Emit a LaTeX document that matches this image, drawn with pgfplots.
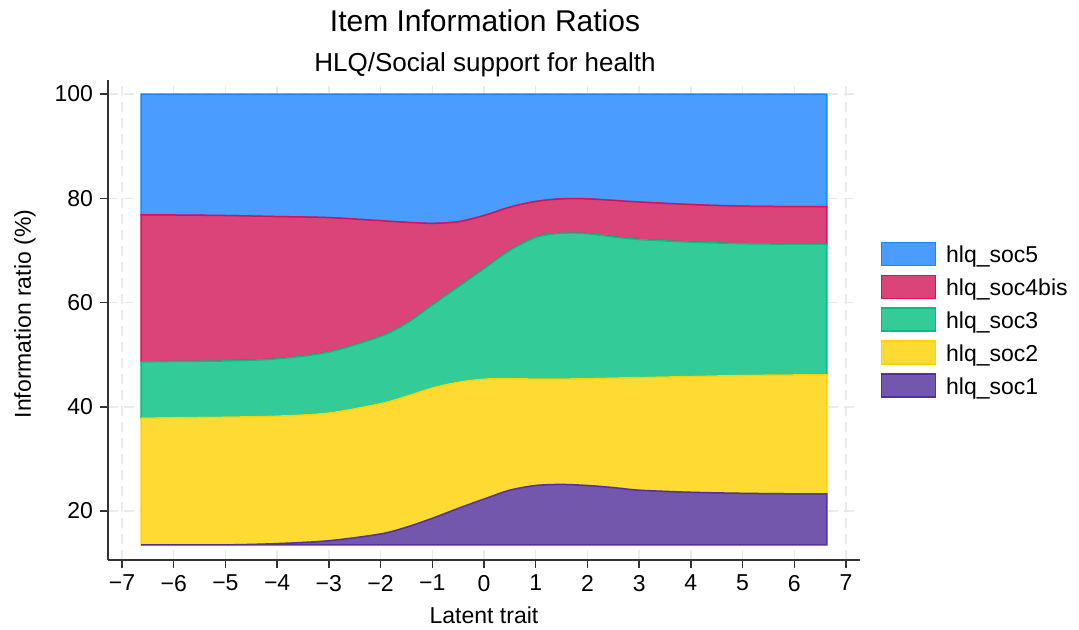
\documentclass[border=0pt]{standalone}
\usepackage{fontspec}
\setmainfont{Liberation Sans}
\usepackage{pgfplots}
\pgfplotsset{compat=1.18}
\usepackage{pgfplotstable}
\usepgfplotslibrary{fillbetween}

\definecolor{f5}{HTML}{4A9CFF}\definecolor{e5}{HTML}{1A85FF}
\definecolor{f4}{HTML}{DB4479}\definecolor{e4}{HTML}{D41159}
\definecolor{f3}{HTML}{33CC99}\definecolor{e3}{HTML}{00BF7F}
\definecolor{f2}{HTML}{FDDB33}\definecolor{e2}{HTML}{FFD400}
\definecolor{f1}{HTML}{7257AC}\definecolor{e1}{HTML}{52329A}
\definecolor{gridc}{HTML}{EAEAEA}

\pgfplotsset{mylegend/.style={legend image code/.code={\draw[##1] (0pt,-4.85pt) rectangle (27pt,6.65pt);}}}

\pgfplotstableread{
x c0 c1 c2 c3 c4 c5
-6.63 13.5 13.5 37.8 48.6 76.8 100
-6 13.5 13.5 37.9 48.7 76.8 100
-5 13.5 13.5 38.0 48.8 76.7 100
-4 13.5 13.75 38.2 49.2 76.5 100
-3 13.5 14.3 38.8 50.5 76.3 100
-2 13.5 15.6 40.6 53.5 75.7 100
-1.5 13.5 16.9 42.0 56.0 75.4 100
-1 13.5 18.6 43.6 59.5 75.2 100
-0.5 13.5 20.5 44.7 63.0 75.5 100
0 13.5 22.3 45.3 66.5 76.7 100
0.5 13.5 24.0 45.4 70.0 78.3 100
1 13.5 24.9 45.3 72.5 79.4 100
1.5 13.5 25.1 45.3 73.3 79.9 100
2 13.5 24.9 45.4 73.2 79.9 100
2.5 13.5 24.5 45.5 72.6 79.6 100
3 13.5 24.0 45.6 72.1 79.3 100
4 13.5 23.6 45.8 71.6 78.8 100
5 13.5 23.4 46.0 71.3 78.5 100
6 13.5 23.3 46.1 71.2 78.4 100
6.63 13.5 23.3 46.1 71.2 78.4 100
}\datatab

\begin{document}
\begin{tikzpicture}
\begin{axis}[
  at={(0,0)}, anchor=south west,
  scale only axis, width=376pt, height=240pt,
  xmin=-7.27, xmax=7.27, ymin=10.6, ymax=102.7,
  axis lines*=left, axis line style={-, black!80, line width=0.75pt},
  xtick={-7,-6,...,7},
  xticklabels={−7,−6,−5,−4,−3,−2,−1,0,1,2,3,4,5,6,7},
  ytick={20,40,60,80,100},
  tick align=outside, major tick length=4pt,
  tick style={black!80, line width=0.75pt},
  /pgf/number format/assume math mode=true,
  ticklabel style={font=\fontsize{11.5}{13}\selectfont},
  grid=major,
  major grid style={gridc, line width=0.75pt, dash pattern=on 5pt off 3pt},
  xlabel={Latent trait},
  ylabel={Information ratio (\%)},
  label style={font=\fontsize{11.5}{13}\selectfont},
  xlabel style={at={(axis description cs:0.5,-0.132)}, anchor=base},
  ylabel style={at={(axis description cs:-0.1024,0.5125)}, anchor=base},
  legend style={at={(axis description cs:1.027,0.664)}, anchor=north west,
    draw=none, fill=none, font=\fontsize{11.5}{13}\selectfont,
    row sep=2.5pt, inner sep=0pt,
    /tikz/every odd column/.append style={column sep=3pt}},
  legend cell align=left,
]
\addplot[draw=none, smooth, name path=p0, forget plot] table[x=x,y=c0] {\datatab};
\addplot[draw=none, smooth, name path=p1, forget plot] table[x=x,y=c1] {\datatab};
\addplot[draw=none, smooth, name path=p2, forget plot] table[x=x,y=c2] {\datatab};
\addplot[draw=none, smooth, name path=p3, forget plot] table[x=x,y=c3] {\datatab};
\addplot[draw=none, smooth, name path=p4, forget plot] table[x=x,y=c4] {\datatab};
\addplot[draw=none, smooth, name path=p5, forget plot] table[x=x,y=c5] {\datatab};

\addplot[fill=f5, draw=e5, line width=0.75pt, mylegend] fill between[of=p5 and p4];
\addlegendentry{hlq\_soc5}
\addplot[fill=f4, draw=e4, line width=0.75pt, mylegend] fill between[of=p4 and p3];
\addlegendentry{hlq\_soc4bis}
\addplot[fill=f3, draw=e3, line width=0.75pt, mylegend] fill between[of=p3 and p2];
\addlegendentry{hlq\_soc3}
\addplot[fill=f2, draw=e2, line width=0.75pt, mylegend] fill between[of=p2 and p1];
\addlegendentry{hlq\_soc2}
\addplot[fill=f1, draw=e1, line width=0.75pt, mylegend] fill between[of=p1 and p0];
\addlegendentry{hlq\_soc1}
\end{axis}
\node[anchor=base, font=\fontsize{15}{18}\selectfont] at (188.5pt,264.2pt) {Item Information Ratios};
\node[anchor=base, font=\fontsize{13}{15}\selectfont] at (188.5pt,244.2pt) {HLQ/Social support for health};
\pgfresetboundingbox
\path[use as bounding box] (-54pt,-34.5pt) rectangle (485.5pt,280pt);
\end{tikzpicture}
\end{document}
